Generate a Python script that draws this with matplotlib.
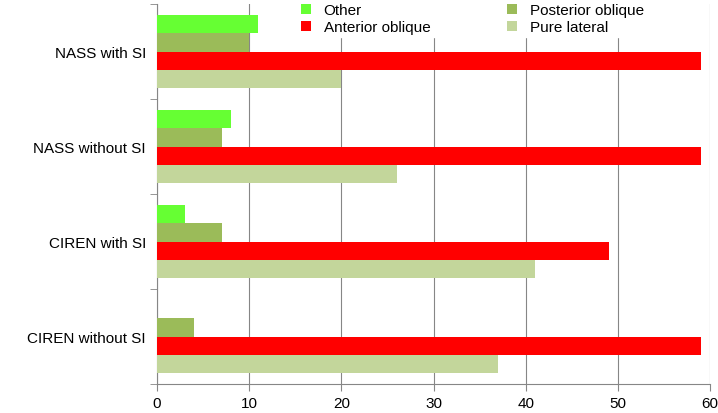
import matplotlib
matplotlib.use("Agg")
import matplotlib.pyplot as plt
import numpy as np

categories = ["CIREN without SI", "CIREN with SI", "NASS without SI", "NASS with SI"]
pure_lateral = [37, 41, 26, 20]
anterior_oblique = [59, 49, 59, 59]
posterior_oblique = [4, 7, 7, 10]
other = [0, 3, 8, 11]

plt.rcParams["font.family"] = "Liberation Sans"
fig = plt.figure(figsize=(7.18, 4.14), dpi=100)
ax = fig.add_axes([157/718, 1-385/414, 553/718, 380/414])

y = np.arange(len(categories))
h = 0.19
series = [(pure_lateral, "#c3d69b", "Pure lateral"),
          (anterior_oblique, "#ff0000", "Anterior oblique"),
          (posterior_oblique, "#9bbb59", "Posterior oblique"),
          (other, "#66ff33", "Other")]
bars = {}
for i, (vals, c, lab) in enumerate(series):
    bars[lab] = ax.barh(y + (i - 1.5) * h, vals, height=h, color=c, label=lab, zorder=3)

ax.set_xlim(0, 60)
ax.set_ylim(-0.5, 3.5)
ax.set_xticks(range(0, 61, 10))
ax.set_yticks(y)
ax.set_yticklabels(categories)
ax.set_yticks(np.arange(-0.5, 3.6, 1), minor=True)
ax.tick_params(axis="y", which="major", length=0, pad=8, labelsize=11)
ax.tick_params(axis="y", which="minor", length=5, color="#868686")
ax.tick_params(axis="x", length=5, color="#868686", labelsize=11)
ax.grid(axis="x", color="#868686", linewidth=0.8, zorder=0)
for s in ["top", "right"]:
    ax.spines[s].set_visible(False)
for s in ["left", "bottom"]:
    ax.spines[s].set_color("#868686")

handles = [bars["Other"], bars["Anterior oblique"], bars["Posterior oblique"], bars["Pure lateral"]]
labels = ["Other", "Anterior oblique", "Posterior oblique", "Pure lateral"]
ax.legend(handles, labels, ncol=2, loc="upper center", bbox_to_anchor=(0.57, 1.03),
          frameon=True, facecolor="white", edgecolor="white", framealpha=1,
          fontsize=11, handlelength=0.7, handleheight=0.7, columnspacing=5,
          labelspacing=0.2, borderpad=0.2)

fig.savefig("out.png", dpi=100)
